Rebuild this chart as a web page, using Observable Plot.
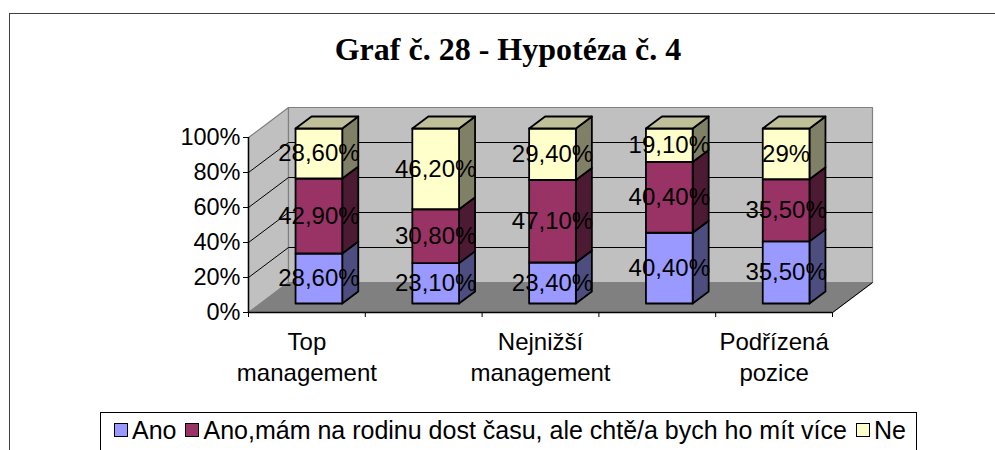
<!DOCTYPE html>
<html>
<head>
<meta charset="utf-8">
<script src="https://cdn.jsdelivr.net/npm/d3@7"></script>
<script src="https://cdn.jsdelivr.net/npm/@observablehq/plot@0.6"></script>
<style>
  html, body { margin: 0; padding: 0; background: #fff; overflow: hidden; width: 995px; height: 450px; }
  #frame { position: absolute; left: 9px; top: 13px; width: 1100px; height: 600px; border: 1.5px solid #404040; box-sizing: border-box; }
  #title { position: absolute; left: 0; top: 29px; width: 1016px; text-align: center; font-family: "Liberation Serif", "Times New Roman", serif; font-weight: bold; font-size: 32px; line-height: 40px; color: #000; }
  #chart { position: absolute; left: 0; top: 90px; }
  #legend { position: absolute; left: 100px; top: 412px; width: 817px; height: 60px; border: 1px solid #000; box-sizing: border-box; background: #fff;
            font-family: "Liberation Sans", Arial, sans-serif; font-size: 25px; line-height: 28px; color: #000; display: flex; align-items: flex-start; padding-left: 13px; padding-top: 3px; }
  .item { display: flex; align-items: center; margin-right: 9px; white-space: nowrap; }
  .sw { width: 12px; height: 12px; border: 1.5px solid #000; margin-right: 4px; }
</style>
</head>
<body>
<div id="frame"></div>
<div id="title">Graf č. 28 - Hypotéza č. 4</div>
<div id="chart"></div>
<div id="legend"></div>
<script>
// ---- data ----
const categories = ["Top management", "Střední management", "Nejnižší management", "Vedoucí pozice", "Podřízená pozice"];
const tickLabels = ["Top\nmanagement", "", "Nejnižší\nmanagement", "", "Podřízená\npozice"];
const seriesNames = ["Ano", "Ano,mám na rodinu dost času, ale chtě/a bych ho mít více", "Ne"];
const ano    = [28.6, 23.1, 23.4, 40.4, 35.5];
const anoMam = [42.9, 30.8, 47.1, 40.4, 35.5];
const ne     = [28.6, 46.2, 29.4, 19.1, 29];
const yTicks = [0, 20, 40, 60, 80, 100];
const frontColors = ["#9999ff", "#993366", "#ffffcc"];
const sideColors  = ["#4d4d80", "#4d1a33", "#808066"];
const topColors   = ["#7373bf", "#73264d", "#bfbf99"];

// ---- layout / projection ----
const W = 995, H = 320;
const mL = 248, mR = 163, mT = 47, mB = 98;
const pxX = (W - mL - mR) / categories.length;   // px per category
const pxY = (H - mT - mB) / 100;                  // px per percent
const depthDX = 40, depthDY = 30;                 // full-depth offset in px
const ddx = depthDX / pxX, ddy = depthDY / pxY;   // full-depth offset in data units
const P = (x, y, d) => ({x: x + d * ddx, y: y + d * ddy});

const fmt = v => Number.isInteger(v) ? v + "%" : v.toFixed(2).replace(".", ",") + "%";

// walls
const walls = [];
const addPoly = (arr, id, pts, fill) => pts.forEach(p => arr.push({id, x: p.x, y: p.y, fill}));
const n = categories.length;
addPoly(walls, "left", [P(0,0,0), P(0,100,0), P(0,100,1), P(0,0,1)], "#c0c0c0");
addPoly(walls, "back", [P(0,0,1), P(0,100,1), P(n,100,1), P(n,0,1)], "#c0c0c0");
addPoly(walls, "floor", [P(0,0,0), P(0,0,1), P(n,0,1), P(n,0,0)], "#808080");

// grid lines
const grid = yTicks.filter(v => v > 0 && v < 100);
const backGrid = grid.map(v => ({a: P(0,v,1), b: P(n,v,1)}));
const sideGrid = grid.map(v => ({a: P(0,v,0), b: P(0,v,1)}));

// bars
const series = [ano, anoMam, ne];
const faces = [];
const labels = [];
const d0 = 0.3, d1 = 0.7, half = 0.2;
categories.forEach((c, i) => {
  const total = ano[i] + anoMam[i] + ne[i];
  let acc = 0;
  series.forEach((s, k) => {
    const y0 = acc / total * 100;
    acc += s[i];
    const y1 = acc / total * 100;
    const xa = i + 0.5 - half, xb = i + 0.5 + half;
    addPoly(faces, `s${i}-${k}`, [P(xb,y0,d0), P(xb,y1,d0), P(xb,y1,d1), P(xb,y0,d1)], sideColors[k]);
    addPoly(faces, `f${i}-${k}`, [P(xa,y0,d0), P(xa,y1,d0), P(xb,y1,d0), P(xb,y0,d0)], frontColors[k]);
    if (k === series.length - 1)
      addPoly(faces, `t${i}-${k}`, [P(xa,y1,d0), P(xa,y1,d1), P(xb,y1,d1), P(xb,y1,d0)], topColors[k]);
    const m = P(i + 0.5, (y0 + y1) / 2, d0);
    labels.push({x: m.x, y: m.y, text: fmt(s[i])});
  });
});

const font = '"Liberation Sans", Arial, sans-serif';
const chart = Plot.plot({
  width: W, height: H,
  marginLeft: mL, marginRight: mR, marginTop: mT, marginBottom: mB,
  style: {fontFamily: font, fontSize: "23px", color: "#000", background: "transparent", overflow: "visible"},
  x: {type: "linear", domain: [0, n]},
  y: {type: "linear", domain: [0, 100]},
  color: {type: "identity"},
  marks: [
    Plot.line(walls, {x: "x", y: "y", z: "id", fill: "fill", stroke: "#808080", strokeWidth: 1.2, curve: "linear-closed"}),
    Plot.link(backGrid, {x1: d => d.a.x, y1: d => d.a.y, x2: d => d.b.x, y2: d => d.b.y, stroke: "#000", strokeWidth: 1}),
    Plot.link(sideGrid, {x1: d => d.a.x, y1: d => d.a.y, x2: d => d.b.x, y2: d => d.b.y, stroke: "#000", strokeWidth: 1}),
    Plot.link([{a: P(n,0,0), b: P(n,0,1)}], {x1: d => d.a.x, y1: d => d.a.y, x2: d => d.b.x, y2: d => d.b.y, stroke: "#000", strokeWidth: 1}),
    Plot.ruleX([0], {y1: 0, y2: 100, stroke: "#000", strokeWidth: 1.5}),
    Plot.ruleY([0], {x1: 0, x2: n, stroke: "#000", strokeWidth: 1.5}),
    Plot.axisY({ticks: yTicks, tickFormat: d => d + "%", tickSize: 5, tickPadding: 3, fontSize: 23.5, label: null, stroke: "#000"}),
    Plot.axisX({ticks: d3.range(n + 1), tickFormat: () => "", tickSize: 5, label: null, stroke: "#000"}),
    Plot.axisX({ticks: d3.range(n).map(i => i + 0.5), tickFormat: t => tickLabels[Math.round(t - 0.5)], tickSize: 0, tickPadding: 16, fontSize: 24, lineHeight: 1.28, label: null}),
    Plot.line(faces, {x: "x", y: "y", z: "id", fill: "fill", stroke: "#000", strokeWidth: 1.8, strokeLinejoin: "round", curve: "linear-closed"}),
    Plot.text(labels, {x: "x", y: "y", text: "text", fontSize: 24, fill: "#000"})
  ]
});
document.getElementById("chart").appendChild(chart);

// legend
const legend = document.getElementById("legend");
seriesNames.forEach((name, k) => {
  const it = document.createElement("div");
  it.className = "item";
  const sw = document.createElement("div");
  sw.className = "sw";
  sw.style.background = frontColors[k];
  const t = document.createElement("span");
  t.textContent = name;
  it.appendChild(sw); it.appendChild(t);
  legend.appendChild(it);
});
</script>
</body>
</html>
